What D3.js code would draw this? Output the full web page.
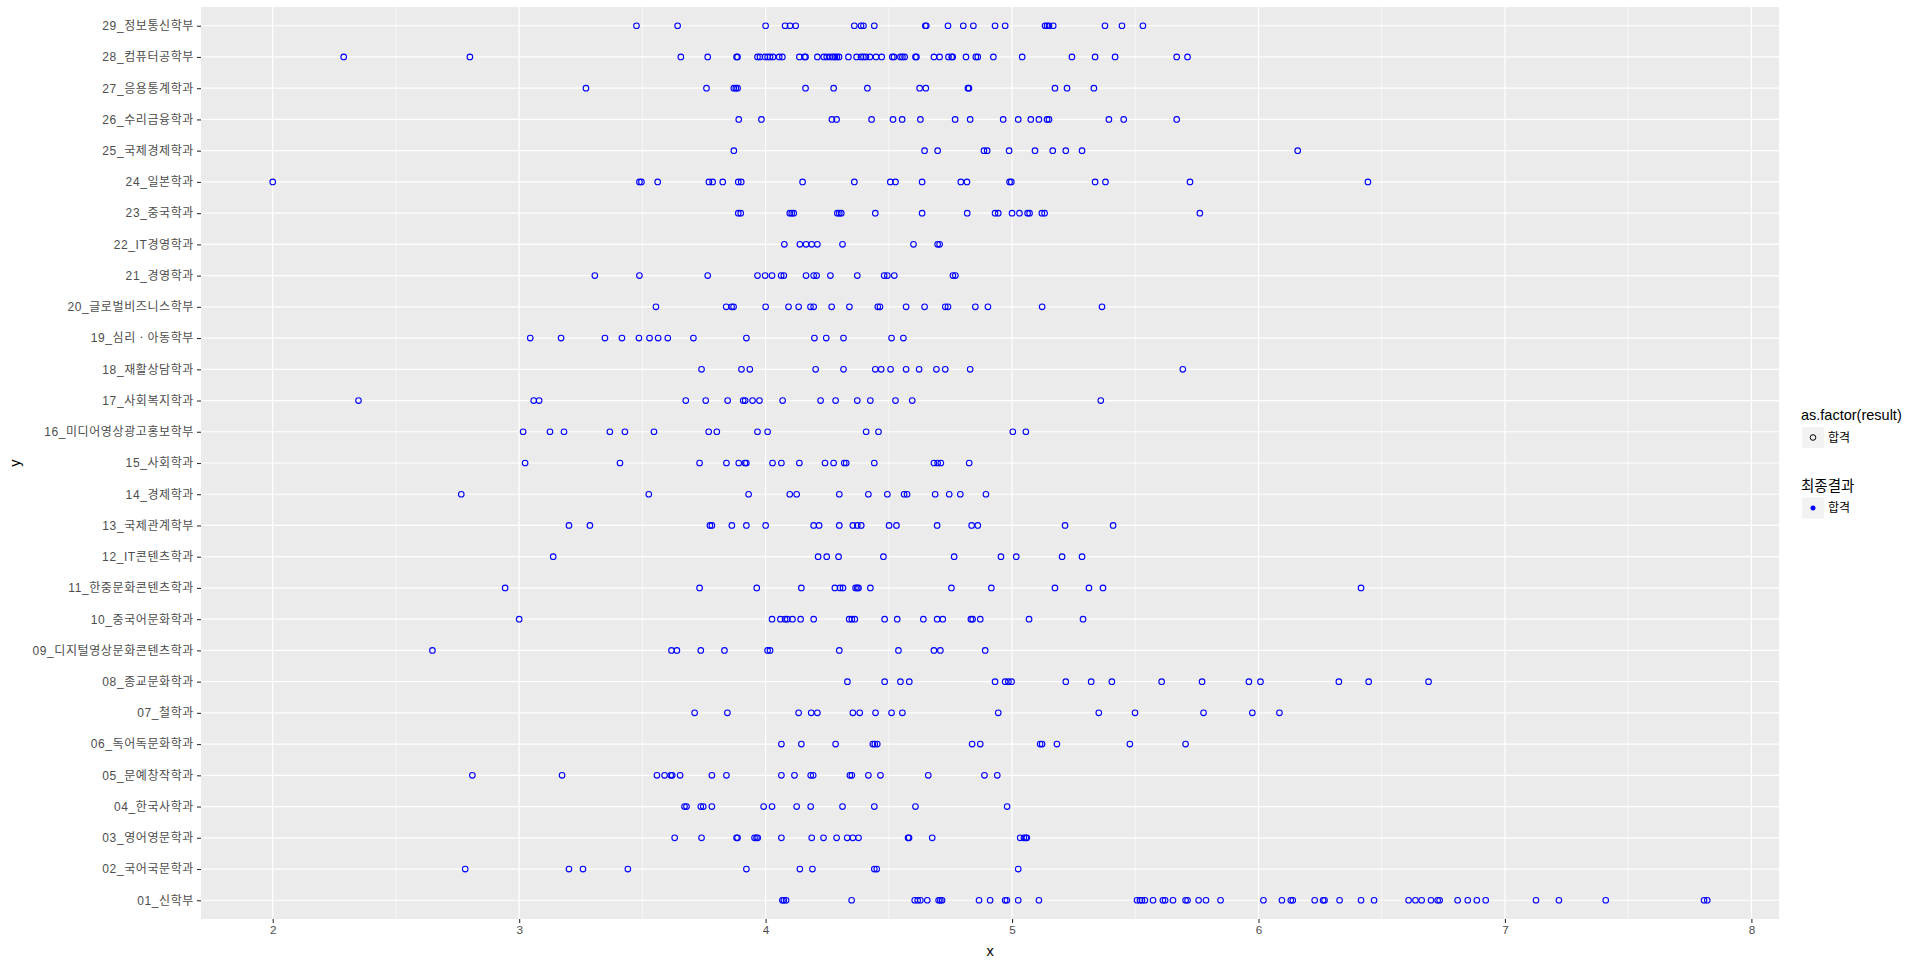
<!DOCTYPE html>
<html>
<head>
<meta charset="utf-8">
<script src="https://cdn.jsdelivr.net/npm/d3@7"></script>
<style>
  body { margin: 0; background: #fff; }
  .tick-label { font-family: "Liberation Sans", "Noto Sans CJK KR", sans-serif; fill: #4d4d4d; }
  .axis-title { font-family: "Liberation Sans", "Noto Sans CJK KR", sans-serif; fill: #000; font-size: 14.5px; }
  .legend-text { font-family: "Liberation Sans", "Noto Sans CJK KR", sans-serif; fill: #000; }
</style>
</head>
<body>
<svg width="1920" height="963"></svg>
<script>
const svg = d3.select('svg');

const width = +svg.attr('width');
const height = +svg.attr('height');
const margin = { top: 7, right: 141, bottom: 44, left: 201 };
const innerWidth = width - margin.left - margin.right;
const innerHeight = height - margin.top - margin.bottom;

const xAxisLabel = 'x';
const yAxisLabel = 'y';
const legendTitle1 = 'as.factor(result)';
const legendTitle2 = '최종결과';
const legendLabel = '합격';

// departments, bottom to top
const departments = [
    '01_신학부', '02_국어국문학과', '03_영어영문학과', '04_한국사학과', '05_문예창작학과',
    '06_독어독문화학과', '07_철학과', '08_종교문화학과', '09_디지털영상문화콘텐츠학과', '10_중국어문화학과',
    '11_한중문화콘텐츠학과', '12_IT콘텐츠학과', '13_국제관계학부', '14_경제학과', '15_사회학과',
    '16_미디어영상광고홍보학부', '17_사회복지학과', '18_재활상담학과', '19_심리ㆍ아동학부', '20_글로벌비즈니스학부',
    '21_경영학과', '22_IT경영학과', '23_중국학과', '24_일본학과', '25_국제경제학과',
    '26_수리금융학과', '27_응용통계학과', '28_컴퓨터공학부', '29_정보통신학부'
];

// scores per department, same order as departments
const scores = [
    [4.068, 4.074, 4.083, 4.349, 4.605, 4.617, 4.628, 4.656, 4.702, 4.709, 4.716, 4.866, 4.911, 4.972, 4.979, 5.025, 5.109, 5.507, 5.519, 5.527, 5.539, 5.572, 5.612, 5.621, 5.653, 5.704, 5.712, 5.757, 5.787, 5.846, 6.020, 6.095, 6.131, 6.139, 6.228, 6.262, 6.268, 6.329, 6.416, 6.469, 6.609, 6.637, 6.662, 6.700, 6.727, 6.735, 6.808, 6.849, 6.886, 6.922, 7.126, 7.219, 7.409, 7.808, 7.821],
    [2.781, 3.202, 3.259, 3.441, 3.922, 4.139, 4.190, 4.441, 4.451, 5.025],
    [3.631, 3.740, 3.882, 3.886, 3.955, 3.963, 3.968, 4.064, 4.187, 4.235, 4.288, 4.331, 4.354, 4.377, 4.578, 4.582, 4.676, 5.033, 5.048, 5.056, 5.060],
    [3.671, 3.679, 3.737, 3.747, 3.782, 3.992, 4.026, 4.126, 4.183, 4.312, 4.441, 4.608, 4.980],
    [2.810, 3.174, 3.559, 3.590, 3.615, 3.621, 3.653, 3.782, 3.841, 4.064, 4.117, 4.183, 4.193, 4.342, 4.350, 4.417, 4.466, 4.660, 4.888, 4.940],
    [4.064, 4.145, 4.284, 4.435, 4.443, 4.453, 4.838, 4.871, 5.114, 5.122, 5.182, 5.478, 5.704],
    [3.712, 3.845, 4.134, 4.185, 4.210, 4.354, 4.382, 4.446, 4.511, 4.555, 4.944, 5.352, 5.499, 5.777, 5.975, 6.085],
    [4.332, 4.483, 4.547, 4.583, 4.931, 4.972, 4.985, 4.998, 5.218, 5.321, 5.405, 5.607, 5.771, 5.961, 6.008, 6.326, 6.447, 6.690],
    [2.648, 3.618, 3.640, 3.737, 3.833, 4.008, 4.018, 4.299, 4.539, 4.683, 4.709, 4.891],
    [3.000, 4.026, 4.060, 4.079, 4.088, 4.109, 4.142, 4.195, 4.339, 4.350, 4.362, 4.483, 4.534, 4.640, 4.696, 4.719, 4.833, 4.840, 4.871, 5.069, 5.288],
    [2.943, 3.732, 3.964, 4.145, 4.281, 4.302, 4.314, 4.365, 4.372, 4.377, 4.425, 4.754, 4.916, 5.174, 5.312, 5.369, 6.416],
    [3.138, 4.213, 4.248, 4.296, 4.478, 4.765, 4.955, 5.017, 5.203, 5.284],
    [3.202, 3.287, 3.774, 3.782, 3.863, 3.922, 4.000, 4.195, 4.217, 4.299, 4.354, 4.372, 4.388, 4.501, 4.531, 4.696, 4.836, 4.861, 5.215, 5.410],
    [2.765, 3.526, 3.931, 4.098, 4.126, 4.299, 4.417, 4.494, 4.562, 4.574, 4.688, 4.745, 4.790, 4.894],
    [3.024, 3.409, 3.732, 3.841, 3.891, 3.916, 3.922, 4.028, 4.064, 4.137, 4.241, 4.276, 4.319, 4.327, 4.441, 4.683, 4.698, 4.711, 4.826],
    [3.016, 3.125, 3.182, 3.368, 3.429, 3.547, 3.769, 3.802, 3.967, 4.008, 4.408, 4.458, 5.003, 5.056],
    [2.348, 3.059, 3.081, 3.676, 3.757, 3.846, 3.909, 3.917, 3.947, 3.975, 4.069, 4.223, 4.284, 4.372, 4.425, 4.527, 4.595, 5.360],
    [3.740, 3.902, 3.936, 4.203, 4.316, 4.445, 4.469, 4.507, 4.570, 4.623, 4.693, 4.729, 4.830, 5.693],
    [3.045, 3.170, 3.348, 3.417, 3.486, 3.529, 3.564, 3.603, 3.707, 3.922, 4.198, 4.246, 4.316, 4.511, 4.559],
    [3.555, 3.840, 3.862, 3.870, 4.000, 4.093, 4.134, 4.182, 4.195, 4.268, 4.340, 4.455, 4.464, 4.570, 4.645, 4.729, 4.740, 4.851, 4.902, 5.122, 5.365],
    [3.307, 3.488, 3.765, 3.967, 3.998, 4.026, 4.063, 4.074, 4.164, 4.195, 4.207, 4.263, 4.372, 4.481, 4.494, 4.522, 4.760, 4.770],
    [4.076, 4.139, 4.164, 4.187, 4.210, 4.312, 4.600, 4.698, 4.706],
    [3.889, 3.899, 4.098, 4.106, 4.114, 4.291, 4.299, 4.307, 4.445, 4.635, 4.818, 4.931, 4.944, 5.000, 5.030, 5.063, 5.071, 5.121, 5.132, 5.762],
    [2.000, 3.488, 3.496, 3.562, 3.770, 3.785, 3.826, 3.889, 3.901, 4.150, 4.360, 4.506, 4.527, 4.635, 4.792, 4.817, 4.990, 4.997, 5.337, 5.379, 5.722, 6.444],
    [3.871, 4.645, 4.698, 4.886, 4.899, 4.988, 5.093, 5.165, 5.218, 5.284, 6.159],
    [3.891, 3.983, 4.269, 4.288, 4.430, 4.517, 4.554, 4.628, 4.769, 4.830, 4.964, 5.025, 5.076, 5.109, 5.142, 5.150, 5.393, 5.453, 5.668],
    [3.271, 3.760, 3.871, 3.879, 3.886, 4.162, 4.276, 4.413, 4.625, 4.650, 4.821, 4.825, 5.174, 5.223, 5.332],
    [2.288, 2.800, 3.656, 3.765, 3.882, 3.886, 3.967, 3.977, 3.997, 4.008, 4.018, 4.030, 4.055, 4.068, 4.137, 4.158, 4.162, 4.210, 4.236, 4.248, 4.261, 4.273, 4.281, 4.289, 4.298, 4.336, 4.369, 4.387, 4.397, 4.407, 4.423, 4.448, 4.471, 4.514, 4.521, 4.547, 4.555, 4.564, 4.608, 4.612, 4.683, 4.706, 4.742, 4.755, 4.759, 4.813, 4.853, 4.861, 4.924, 5.041, 5.243, 5.337, 5.418, 5.668, 5.712],
    [3.476, 3.643, 4.000, 4.079, 4.099, 4.122, 4.360, 4.387, 4.397, 4.441, 4.648, 4.652, 4.740, 4.802, 4.843, 4.931, 4.972, 5.134, 5.142, 5.150, 5.167, 5.377, 5.446, 5.531]
];

const xMajorTicks = [2, 3, 4, 5, 6, 7, 8];
const xMinorTicks = [2.5, 3.5, 4.5, 5.5, 6.5, 7.5];

// flatten to points
const data = [];
departments.forEach((dep, i) => {
    scores[i].forEach(v => data.push({ dep: dep, value: v }));
});

// ggplot style 5% expansion
const extent = d3.extent(data, d => d.value);
const pad = (extent[1] - extent[0]) * 0.05;

const x_scale = d3.scaleLinear()
    .domain([extent[0] - pad, extent[1] + pad])
    .range([0, innerWidth]);

const y_scale = d3.scalePoint()
    .domain(departments)
    .range([innerHeight, 0])
    .padding(0.6);

const g = svg.append('g')
    .attr('transform', `translate(${margin.left},${margin.top})`);

// panel background
g.append('rect')
    .attr('width', innerWidth)
    .attr('height', innerHeight)
    .attr('fill', '#ebebeb');

// minor grid
g.selectAll('.minor-grid')
    .data(xMinorTicks)
    .enter()
    .append('line')
    .attr('x1', d => x_scale(d)).attr('x2', d => x_scale(d))
    .attr('y1', 0).attr('y2', innerHeight)
    .attr('stroke', '#fff').attr('stroke-width', 0.6);

// major grid
g.selectAll('.major-grid-x')
    .data(xMajorTicks)
    .enter()
    .append('line')
    .attr('x1', d => x_scale(d)).attr('x2', d => x_scale(d))
    .attr('y1', 0).attr('y2', innerHeight)
    .attr('stroke', '#fff').attr('stroke-width', 1.2);

g.selectAll('.major-grid-y')
    .data(departments)
    .enter()
    .append('line')
    .attr('x1', 0).attr('x2', innerWidth)
    .attr('y1', d => y_scale(d)).attr('y2', d => y_scale(d))
    .attr('stroke', '#fff').attr('stroke-width', 1.2);

// axes
const x_axis_bottom = d3.axisBottom(x_scale)
    .tickValues(xMajorTicks)
    .tickSize(4)
    .tickPadding(3)
    .tickFormat(d3.format('d'));

const y_axis_left = d3.axisLeft(y_scale)
    .tickSize(4)
    .tickPadding(3);

const x_axis_g = g.append('g')
    .attr('transform', `translate(0,${innerHeight})`)
    .call(x_axis_bottom);

const y_axis_g = g.append('g')
    .call(y_axis_left);

[x_axis_g, y_axis_g].forEach(ax => {
    ax.select('.domain').remove();
    ax.selectAll('.tick line').attr('stroke', '#333').attr('stroke-width', 1.1);
    ax.selectAll('.tick text').attr('class', 'tick-label').attr('fill', '#4d4d4d');
});
x_axis_g.selectAll('.tick text').style('font-size', '11.7px');
y_axis_g.selectAll('.tick text')
    .style('font-size', '12px')
    .style('letter-spacing', '0.6px');

// points
g.selectAll('.pt')
    .data(data)
    .enter()
    .append('circle')
    .attr('class', 'pt')
    .attr('cx', d => x_scale(d.value))
    .attr('cy', d => y_scale(d.dep))
    .attr('r', 2.8)
    .attr('fill', 'none')
    .attr('stroke', '#0000ff')
    .attr('stroke-width', 1.1);

// axis titles
svg.append('text')
    .attr('class', 'axis-title')
    .attr('x', margin.left + innerWidth / 2)
    .attr('y', 956)
    .attr('text-anchor', 'middle')
    .text(xAxisLabel);

svg.append('text')
    .attr('class', 'axis-title')
    .attr('transform', `translate(20,${margin.top + innerHeight / 2}) rotate(-90)`)
    .attr('text-anchor', 'middle')
    .text(yAxisLabel);

// legends
const legendX = width - margin.right + 22;
const legends = [
    { title: legendTitle1, top: 420, filled: false },
    { title: legendTitle2, top: 490.5, filled: true }
];

legends.forEach(l => {
    const lg = svg.append('g').attr('transform', `translate(${legendX},${l.top})`);
    lg.append('text')
        .attr('class', 'legend-text')
        .style('font-size', '14.5px')
        .text(l.title);
    lg.append('rect')
        .attr('x', 1).attr('y', 7)
        .attr('width', 22).attr('height', 21)
        .attr('fill', '#f2f2f2');
    lg.append('circle')
        .attr('cx', 12).attr('cy', 17.5)
        .attr('r', l.filled ? 2.3 : 2.8)
        .attr('fill', l.filled ? '#0000ff' : 'none')
        .attr('stroke', l.filled ? '#0000ff' : '#000')
        .attr('stroke-width', l.filled ? 0.5 : 1);
    lg.append('text')
        .attr('class', 'legend-text')
        .attr('x', 27).attr('y', 21.5)
        .style('font-size', '12px')
        .text(legendLabel);
});
</script>
</body>
</html>
